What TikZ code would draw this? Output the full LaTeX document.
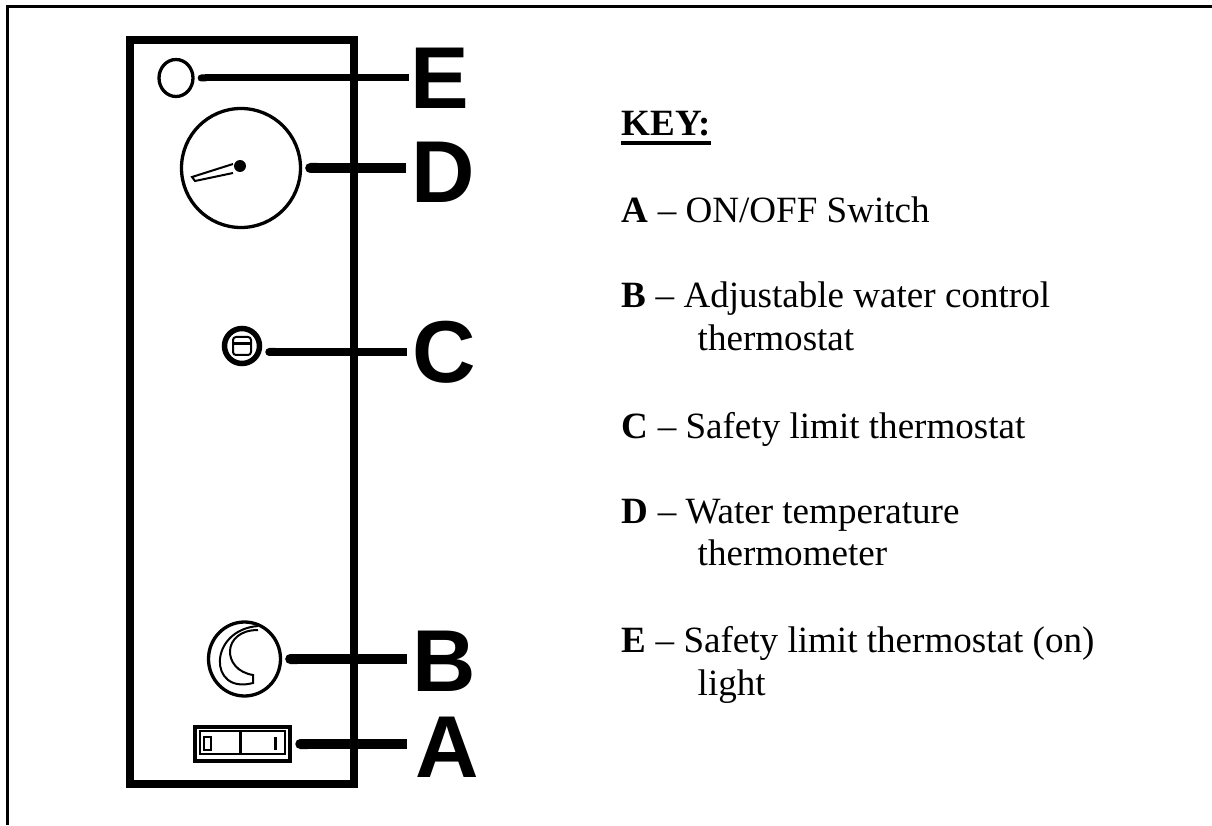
\documentclass[tikz,border=0pt]{standalone}
\usepackage{fontspec}
\setmainfont{Liberation Serif}
\newfontfamily\panelfont{Liberation Sans}
\usetikzlibrary{arrows.meta,shapes.geometric}

\begin{document}
\begin{tikzpicture}[
    panelletter/.style={inner sep=0pt,font=\panelfont\bfseries\fontsize{25}{25}\selectfont},
    keyline/.style={anchor=base west,inner sep=0pt,font=\fontsize{10.55}{12}\selectfont},
    leader/.style={{Round Cap[]}-,line width=#1,shorten <=0.03cm,shorten >=0.05cm},
    fineline/.style={line width=0.02cm},
    thickline/.style={line width=0.033cm}]
                \useasboundingbox (0, 0) rectangle (12.12, 8.25);
                \draw[line width=0.03cm] (0.075, 0) -- (0.075, 8.185) -- (12.12, 8.185);
                \draw[line width=0.08cm] (1.30, 0.41) rectangle (3.54, 7.85);
                \node[shape=ellipse,draw=black,thickline,inner sep=0pt,minimum width=0.34cm,minimum height=0.37cm](lampE)at(1.76, 7.47){};
                \node[shape=circle,draw=black,thickline,inner sep=0pt,minimum size=1.19cm](dialD)at(2.41, 6.57){};
                \node[shape=circle,draw=black,line width=0.055cm,inner sep=0pt,minimum size=0.35cm](limitC)at(2.42, 4.79){};
                \node[shape=ellipse,draw=black,thickline,inner sep=0pt,minimum width=0.72cm,minimum height=0.74cm](knobB)at(2.445, 1.66){};
                \node[shape=rectangle,draw=black,line width=0.045cm,inner sep=0pt,minimum width=0.95cm,minimum height=0.34cm](switchA)at(2.425, 0.81){};
                \node[panelletter](letterE)at(4.40, 7.465){E};
                \node[panelletter](letterD)at(4.43, 6.53){D};
                \node[panelletter](letterC)at(4.44, 4.73){C};
                \node[panelletter](letterB)at(4.445, 1.64){B};
                \node[panelletter](letterA)at(4.47, 0.78){A};
                \path[draw=black](lampE.east) edge[leader=0.07cm,shorten >=0.01cm] (lampE.east -| letterE.west)
                (dialD.east) edge[leader=0.1cm] (dialD.east -| letterD.west)
                (limitC.east |- letterC.west) edge[leader=0.08cm] (letterC.west)
                (knobB.east) edge[leader=0.1cm] (knobB.east -| letterB.west)
                (switchA.east) edge[leader=0.1cm,shorten >=0.08cm] (switchA.east -| letterA.west);
                \draw[fineline] (2.33, 6.61) -- (1.92, 6.48) -- (1.95, 6.44) -- (2.33, 6.52);
                \fill (2.40, 6.59) circle (0.06);
                \draw[fineline,rounded corners=0.03cm] (2.33, 4.70) rectangle (2.51, 4.88);
                \draw[line width=0.03cm] (2.33, 4.81) -- (2.51, 4.81);
                \draw[fineline] (2.58, 1.99) .. controls (2.08, 1.95) and (2.08, 1.30) .. (2.53, 1.42)
                -- (2.53, 1.50) .. controls (2.215, 1.55) and (2.215, 1.95) .. (2.58, 1.95);
                \draw[fineline] (2.00, 0.71) rectangle (2.85, 0.94);
                \draw[line width=0.03cm] (2.40, 0.71) -- (2.40, 0.94);
                \draw[line width=0.02cm] (2.04, 0.75) rectangle (2.11, 0.88);
                \draw[line width=0.03cm] (2.75, 0.75) -- (2.75, 0.88);
                \node[keyline,font=\bfseries\fontsize{10.55}{12}\selectfont](keyTitle)at(6.21, 6.89){KEY:};
                \draw[line width=0.04cm] (keyTitle.base west) ++(0, -0.07) -- ++(0.90, 0);
                \node[keyline](keyA)at(6.21, 6.02){\textbf{A} -- ON/OFF Switch};
                \node[keyline](keyB)at(6.21, 5.17){\textbf{B} -- Adjustable water control};
                \node[keyline](keyBb)at(6.97, 4.74){thermostat};
                \node[keyline](keyC)at(6.21, 3.87){\textbf{C} -- Safety limit thermostat};
                \node[keyline](keyD)at(6.21, 3.02){\textbf{D} -- Water temperature};
                \node[keyline](keyDb)at(6.97, 2.60){thermometer};
                \node[keyline](keyE)at(6.21, 1.73){\textbf{E} -- Safety limit thermostat (on)};
                \node[keyline](keyEb)at(6.97, 1.30){light};
            \end{tikzpicture}
\end{document}
